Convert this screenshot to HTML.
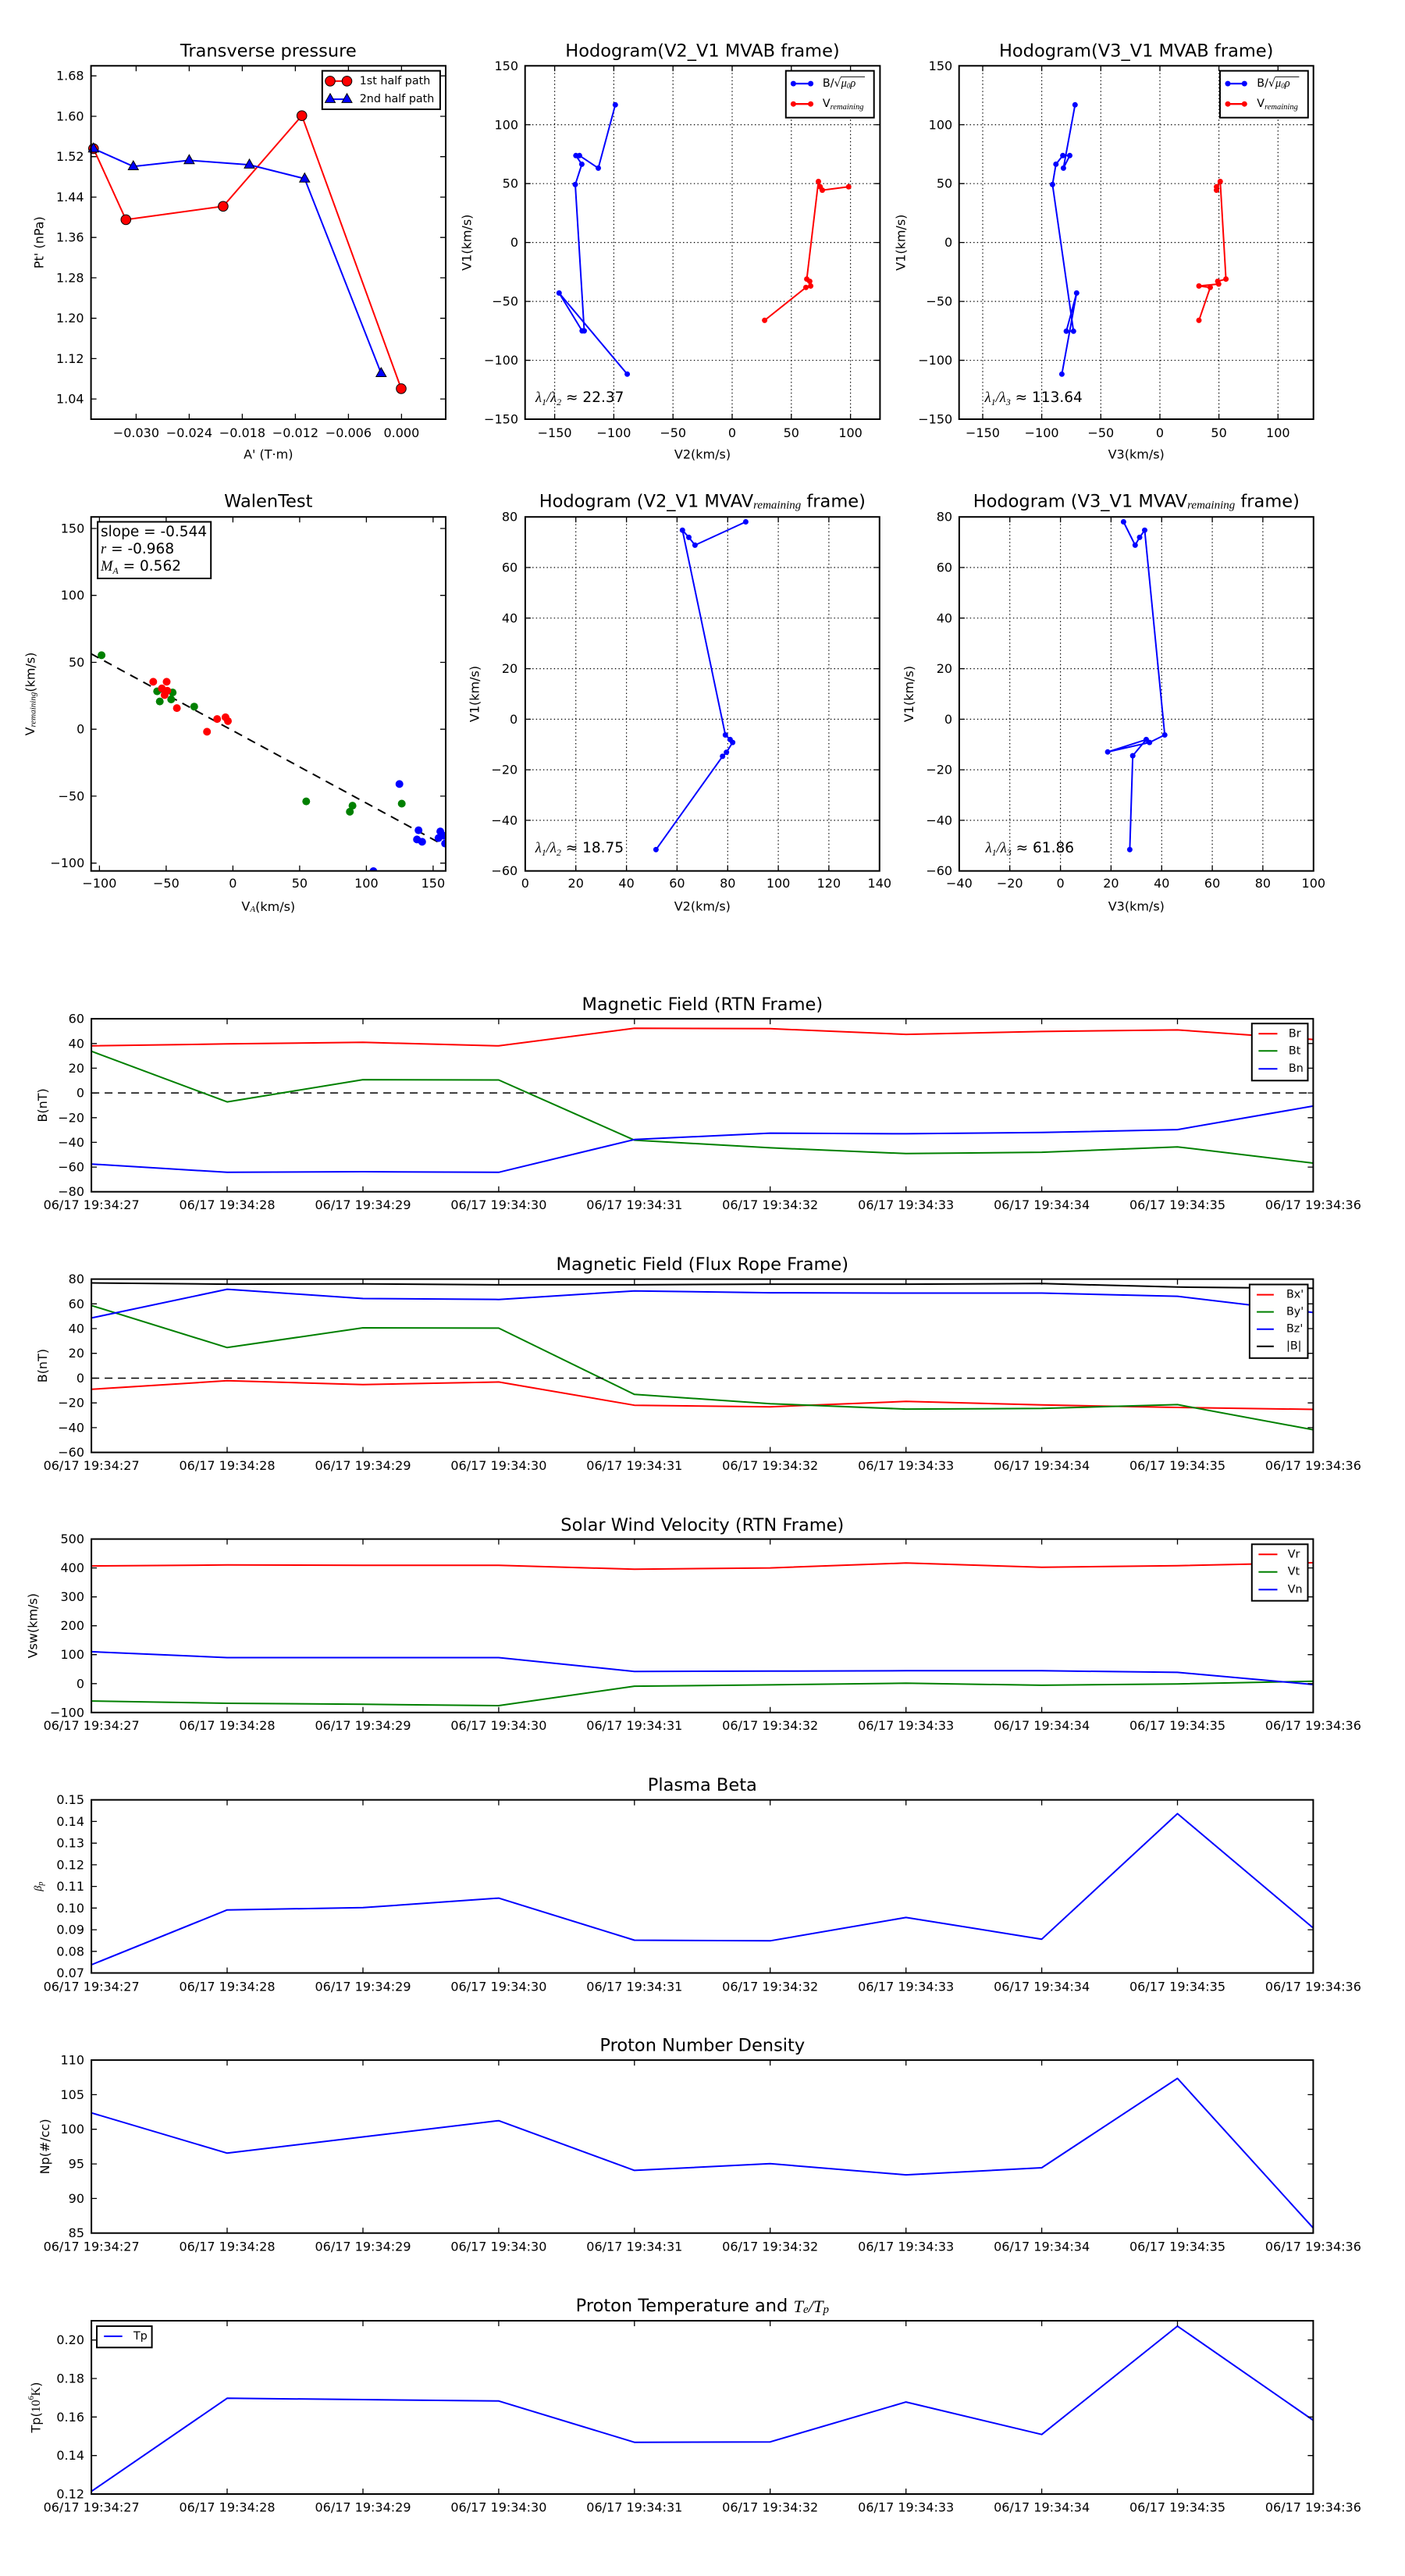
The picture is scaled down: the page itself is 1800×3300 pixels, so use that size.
<!DOCTYPE html>
<html><head><meta charset="utf-8"><title>Flux rope analysis</title><style>
html,body{margin:0;padding:0;background:#fff;}
svg{display:block;}
text{font-family:"DejaVu Sans","Liberation Sans",sans-serif;fill:#000;}
.t{font-size:16px;}
.ti{font-size:22.5px;}
.al{font-size:16px;}
.lg{font-size:14.3px;}
.tx{font-size:18.5px;}
.m{font-family:"Liberation Serif","DejaVu Serif",serif;font-style:italic;}
.fr{fill:none;stroke:#000;stroke-width:2;}
.tk{fill:none;stroke:#000;stroke-width:1.3;}
.gr{fill:none;stroke:#000;stroke-width:1.2;stroke-dasharray:1.4,3.2;}
.ln{fill:none;stroke-width:2;stroke-linejoin:round;}
</style></head><body>
<svg width="1800" height="3300" viewBox="0 0 1800 3300" xmlns="http://www.w3.org/2000/svg">
<rect width="1800" height="3300" fill="#fff"/>
<defs>
<clipPath id="cw"><rect x="116.7" y="662.2" width="454.3" height="453.5"/></clipPath>
</defs>

<!-- ============ PLOT 1: Transverse pressure ============ -->
<text class="ti" x="343.8" y="65.7" text-anchor="middle" dominant-baseline="central">Transverse pressure</text>
<path class="tk" d="M174.4,537v-7M242.4,537v-7M310.4,537v-7M378.4,537v-7M446.4,537v-7M514.4,537v-7M174.4,84.3v7M242.4,84.3v7M310.4,84.3v7M378.4,84.3v7M446.4,84.3v7M514.4,84.3v7M116.6,511.1h7M116.6,459.4h7M116.6,407.7h7M116.6,355.9h7M116.6,304.2h7M116.6,252.5h7M116.6,200.7h7M116.6,149h7M116.6,97.2h7M571,511.1h-7M571,459.4h-7M571,407.7h-7M571,355.9h-7M571,304.2h-7M571,252.5h-7M571,200.7h-7M571,149h-7M571,97.2h-7"/>
<g class="t" text-anchor="end" dominant-baseline="central">
<text x="107.6" y="511.1">1.04</text><text x="107.6" y="459.4">1.12</text><text x="107.6" y="407.7">1.20</text><text x="107.6" y="355.9">1.28</text><text x="107.6" y="304.2">1.36</text><text x="107.6" y="252.5">1.44</text><text x="107.6" y="200.7">1.52</text><text x="107.6" y="149">1.60</text><text x="107.6" y="97.2">1.68</text>
</g>
<g class="t" text-anchor="middle" dominant-baseline="central">
<text x="174.4" y="554.3">−0.030</text><text x="242.4" y="554.3">−0.024</text><text x="310.4" y="554.3">−0.018</text><text x="378.4" y="554.3">−0.012</text><text x="446.4" y="554.3">−0.006</text><text x="514.4" y="554.3">0.000</text>
</g>
<text class="al" transform="translate(50.2,310.7) rotate(-90)" text-anchor="middle" dominant-baseline="central">Pt' (nPa)</text>
<text class="al" x="343.8" y="582" text-anchor="middle" dominant-baseline="central">A' (T·m)</text>
<polyline class="ln" stroke="#f00" points="119.8,190.4 161.3,281.4 285.9,264.3 386.7,148.2 514,497.9"/>
<g fill="#f00" stroke="#000" stroke-width="1">
<circle cx="119.8" cy="190.4" r="6.3"/><circle cx="161.3" cy="281.4" r="6.3"/><circle cx="285.9" cy="264.3" r="6.3"/><circle cx="386.7" cy="148.2" r="6.3"/><circle cx="514" cy="497.9" r="6.3"/>
</g>
<polyline class="ln" stroke="#00f" points="119.8,190.4 170.8,213.2 242.4,205.4 319.5,211.1 390.3,228.9 488.3,478.2"/>
<g fill="#00f" stroke="#000" stroke-width="1">
<path d="M119.8,183.2l6.5,11.5h-13z"/><path d="M170.8,206l6.5,11.5h-13z"/><path d="M242.4,198.2l6.5,11.5h-13z"/><path d="M319.5,203.9l6.5,11.5h-13z"/><path d="M390.3,221.7l6.5,11.5h-13z"/><path d="M488.3,471l6.5,11.5h-13z"/>
</g>
<rect class="fr" x="116.6" y="84.3" width="454.4" height="452.7"/>
<rect x="412.8" y="90.7" width="151.1" height="49.3" fill="#fff" stroke="#000" stroke-width="2"/>
<line x1="423" y1="103.9" x2="444.5" y2="103.9" stroke="#f00" stroke-width="2"/>
<circle cx="423" cy="103.9" r="6.3" fill="#f00" stroke="#000"/><circle cx="444.5" cy="103.9" r="6.3" fill="#f00" stroke="#000"/>
<line x1="423" y1="127.1" x2="444.5" y2="127.1" stroke="#00f" stroke-width="2"/>
<path d="M423,119.9l6.5,11.5h-13z M444.5,119.9l6.5,11.5h-13z" fill="#00f" stroke="#000"/>
<text class="lg" x="460.7" y="103.9" dominant-baseline="central">1st half path</text>
<text class="lg" x="460.7" y="127.1" dominant-baseline="central">2nd half path</text>

<!-- ============ PLOT 2: Hodogram V2_V1 MVAB ============ -->
<text class="ti" x="900" y="65.7" text-anchor="middle" dominant-baseline="central">Hodogram(V2_V1 MVAB frame)</text>
<path class="gr" d="M710.6,84.3V537M786.4,84.3V537M862.2,84.3V537M938,84.3V537M1013.8,84.3V537M1089.6,84.3V537M672.7,159.75H1127.4M672.7,235.2H1127.4M672.7,310.65H1127.4M672.7,386.1H1127.4M672.7,461.55H1127.4"/>
<path class="tk" d="M710.6,537v-7M786.4,537v-7M862.2,537v-7M938,537v-7M1013.8,537v-7M1089.6,537v-7M710.6,84.3v7M786.4,84.3v7M862.2,84.3v7M938,84.3v7M1013.8,84.3v7M1089.6,84.3v7M672.7,159.75h7M672.7,235.2h7M672.7,310.65h7M672.7,386.1h7M672.7,461.55h7M1127.4,159.75h-7M1127.4,235.2h-7M1127.4,310.65h-7M1127.4,386.1h-7M1127.4,461.55h-7"/>
<g class="t" text-anchor="end" dominant-baseline="central">
<text x="664" y="84.3">150</text><text x="664" y="159.75">100</text><text x="664" y="235.2">50</text><text x="664" y="310.65">0</text><text x="664" y="386.1">−50</text><text x="664" y="461.55">−100</text><text x="664" y="537">−150</text>
</g>
<g class="t" text-anchor="middle" dominant-baseline="central">
<text x="710.6" y="554.3">−150</text><text x="786.4" y="554.3">−100</text><text x="862.2" y="554.3">−50</text><text x="938" y="554.3">0</text><text x="1013.8" y="554.3">50</text><text x="1089.6" y="554.3">100</text>
</g>
<text class="al" transform="translate(598,310.7) rotate(-90)" text-anchor="middle" dominant-baseline="central">V1(km/s)</text>
<text class="al" x="900" y="582" text-anchor="middle" dominant-baseline="central">V2(km/s)</text>
<polyline class="ln" stroke="#00f" stroke-width="2.3" points="788.3,134.3 766.5,215.4 742.4,199.3 737.8,199.3 745.4,210.4 737,236.4 748.5,423.9 745.8,423.9 716.3,375.4 803.6,479.3"/>
<g fill="#00f">
<circle cx="788.3" cy="134.3" r="3.5"/><circle cx="766.5" cy="215.4" r="3.5"/><circle cx="742.4" cy="199.3" r="3.5"/><circle cx="737.8" cy="199.3" r="3.5"/><circle cx="745.4" cy="210.4" r="3.5"/><circle cx="737" cy="236.4" r="3.5"/><circle cx="748.5" cy="423.9" r="3.5"/><circle cx="745.8" cy="423.9" r="3.5"/><circle cx="716.3" cy="375.4" r="3.5"/><circle cx="803.6" cy="479.3" r="3.5"/>
</g>
<polyline class="ln" stroke="#f00" stroke-width="2.3" points="1087.2,239.3 1053.5,243.6 1050.8,239.3 1048.5,232.5 1033.6,357.5 1037.4,360.4 1038.6,366.4 1032.5,368.2 979.6,410.4"/>
<g fill="#f00">
<circle cx="1087.2" cy="239.3" r="3.5"/><circle cx="1053.5" cy="243.6" r="3.5"/><circle cx="1050.8" cy="239.3" r="3.5"/><circle cx="1048.5" cy="232.5" r="3.5"/><circle cx="1033.6" cy="357.5" r="3.5"/><circle cx="1037.4" cy="360.4" r="3.5"/><circle cx="1038.6" cy="366.4" r="3.5"/><circle cx="1032.5" cy="368.2" r="3.5"/><circle cx="979.6" cy="410.4" r="3.5"/>
</g>
<rect class="fr" x="672.7" y="84.3" width="454.7" height="452.7"/>
<rect x="1006.8" y="90.7" width="112.9" height="60" fill="#fff" stroke="#000" stroke-width="2"/>
<line x1="1016.4" y1="107.1" x2="1038.6" y2="107.1" stroke="#00f" stroke-width="2.3"/><circle cx="1016.4" cy="107.1" r="3.5" fill="#00f"/><circle cx="1038.6" cy="107.1" r="3.5" fill="#00f"/>
<line x1="1016.4" y1="133.2" x2="1038.6" y2="133.2" stroke="#f00" stroke-width="2.3"/><circle cx="1016.4" cy="133.2" r="3.5" fill="#f00"/><circle cx="1038.6" cy="133.2" r="3.5" fill="#f00"/>
<text class="lg" x="1053.9" y="107.1" dominant-baseline="central">B/√<tspan class="m">μ</tspan><tspan class="m" font-size="9" dy="3">0</tspan><tspan class="m" dy="-3">ρ</tspan></text>
<line x1="1077" y1="98.6" x2="1108" y2="98.6" stroke="#000" stroke-width="0.9"/>
<text class="lg" x="1053.9" y="133.2" dominant-baseline="central">V<tspan class="m" font-size="10.5" dy="4">remaining</tspan></text>
<text class="tx" x="686" y="515"><tspan class="m">λ</tspan><tspan class="m" font-size="12" dy="4">1</tspan><tspan class="m" dy="-4">/</tspan><tspan class="m">λ</tspan><tspan class="m" font-size="12" dy="4">2</tspan><tspan dy="-4"> ≈ 22.37</tspan></text>

<!-- ============ PLOT 3: Hodogram V3_V1 MVAB ============ -->
<text class="ti" x="1455.7" y="65.7" text-anchor="middle" dominant-baseline="central">Hodogram(V3_V1 MVAB frame)</text>
<path class="gr" d="M1259,84.3V537M1334.6,84.3V537M1410.3,84.3V537M1486,84.3V537M1561.6,84.3V537M1637.3,84.3V537M1228.7,159.75H1682.7M1228.7,235.2H1682.7M1228.7,310.65H1682.7M1228.7,386.1H1682.7M1228.7,461.55H1682.7"/>
<path class="tk" d="M1259,537v-7M1334.6,537v-7M1410.3,537v-7M1486,537v-7M1561.6,537v-7M1637.3,537v-7M1259,84.3v7M1334.6,84.3v7M1410.3,84.3v7M1486,84.3v7M1561.6,84.3v7M1637.3,84.3v7M1228.7,159.75h7M1228.7,235.2h7M1228.7,310.65h7M1228.7,386.1h7M1228.7,461.55h7M1682.7,159.75h-7M1682.7,235.2h-7M1682.7,310.65h-7M1682.7,386.1h-7M1682.7,461.55h-7"/>
<g class="t" text-anchor="end" dominant-baseline="central">
<text x="1220.2" y="84.3">150</text><text x="1220.2" y="159.75">100</text><text x="1220.2" y="235.2">50</text><text x="1220.2" y="310.65">0</text><text x="1220.2" y="386.1">−50</text><text x="1220.2" y="461.55">−100</text><text x="1220.2" y="537">−150</text>
</g>
<g class="t" text-anchor="middle" dominant-baseline="central">
<text x="1259" y="554.3">−150</text><text x="1334.6" y="554.3">−100</text><text x="1410.3" y="554.3">−50</text><text x="1486" y="554.3">0</text><text x="1561.6" y="554.3">50</text><text x="1637.3" y="554.3">100</text>
</g>
<text class="al" transform="translate(1154,310.7) rotate(-90)" text-anchor="middle" dominant-baseline="central">V1(km/s)</text>
<text class="al" x="1455.7" y="582" text-anchor="middle" dominant-baseline="central">V3(km/s)</text>
<polyline class="ln" stroke="#00f" stroke-width="2.3" points="1377.3,134.3 1362.4,215.4 1370.5,199.3 1361.6,199.3 1352.8,210.4 1348.4,236.4 1375.3,424.3 1366.1,424.3 1379.3,375.4 1360.4,479.3"/>
<g fill="#00f">
<circle cx="1377.3" cy="134.3" r="3.5"/><circle cx="1362.4" cy="215.4" r="3.5"/><circle cx="1370.5" cy="199.3" r="3.5"/><circle cx="1361.6" cy="199.3" r="3.5"/><circle cx="1352.8" cy="210.4" r="3.5"/><circle cx="1348.4" cy="236.4" r="3.5"/><circle cx="1375.3" cy="424.3" r="3.5"/><circle cx="1366.1" cy="424.3" r="3.5"/><circle cx="1379.3" cy="375.4" r="3.5"/><circle cx="1360.4" cy="479.3" r="3.5"/>
</g>
<polyline class="ln" stroke="#f00" stroke-width="2.3" points="1558.5,239.3 1558.5,243.6 1558.5,239.3 1563.3,232.5 1570.6,357.5 1560.1,360.4 1561.3,363.9 1536,366.4 1550.5,368.2 1536,410.4"/>
<g fill="#f00">
<circle cx="1558.5" cy="239.3" r="3.5"/><circle cx="1558.5" cy="243.6" r="3.5"/><circle cx="1563.3" cy="232.5" r="3.5"/><circle cx="1570.6" cy="357.5" r="3.5"/><circle cx="1560.1" cy="360.4" r="3.5"/><circle cx="1561.3" cy="363.9" r="3.5"/><circle cx="1536" cy="366.4" r="3.5"/><circle cx="1550.5" cy="368.2" r="3.5"/><circle cx="1536" cy="410.4" r="3.5"/>
</g>
<rect class="fr" x="1228.7" y="84.3" width="454" height="452.7"/>
<rect x="1563" y="90.7" width="112.8" height="60" fill="#fff" stroke="#000" stroke-width="2"/>
<line x1="1573" y1="107.1" x2="1594.3" y2="107.1" stroke="#00f" stroke-width="2.3"/><circle cx="1573" cy="107.1" r="3.5" fill="#00f"/><circle cx="1594.3" cy="107.1" r="3.5" fill="#00f"/>
<line x1="1573" y1="133.2" x2="1594.3" y2="133.2" stroke="#f00" stroke-width="2.3"/><circle cx="1573" cy="133.2" r="3.5" fill="#f00"/><circle cx="1594.3" cy="133.2" r="3.5" fill="#f00"/>
<text class="lg" x="1610.3" y="107.1" dominant-baseline="central">B/√<tspan class="m">μ</tspan><tspan class="m" font-size="9" dy="3">0</tspan><tspan class="m" dy="-3">ρ</tspan></text>
<line x1="1633.4" y1="98.6" x2="1664.4" y2="98.6" stroke="#000" stroke-width="0.9"/>
<text class="lg" x="1610.3" y="133.2" dominant-baseline="central">V<tspan class="m" font-size="10.5" dy="4">remaining</tspan></text>
<text class="tx" x="1261.6" y="515"><tspan class="m">λ</tspan><tspan class="m" font-size="12" dy="4">1</tspan><tspan class="m" dy="-4">/</tspan><tspan class="m">λ</tspan><tspan class="m" font-size="12" dy="4">3</tspan><tspan dy="-4"> ≈ 113.64</tspan></text>

<!-- ============ PLOT 4: WalenTest ============ -->
<text class="ti" x="343.8" y="642.6" text-anchor="middle" dominant-baseline="central">WalenTest</text>
<path class="tk" d="M127.4,1115.7v-7M212.9,1115.7v-7M298.4,1115.7v-7M383.9,1115.7v-7M469.4,1115.7v-7M554.9,1115.7v-7M127.4,662.2v7M212.9,662.2v7M298.4,662.2v7M383.9,662.2v7M469.4,662.2v7M554.9,662.2v7M116.7,677h7M116.7,762.7h7M116.7,848.5h7M116.7,934.2h7M116.7,1019.9h7M116.7,1105.7h7M571,677h-7M571,762.7h-7M571,848.5h-7M571,934.2h-7M571,1019.9h-7M571,1105.7h-7"/>
<g class="t" text-anchor="end" dominant-baseline="central">
<text x="108.3" y="677">150</text><text x="108.3" y="762.7">100</text><text x="108.3" y="848.5">50</text><text x="108.3" y="934.2">0</text><text x="108.3" y="1019.9">−50</text><text x="108.3" y="1105.7">−100</text>
</g>
<g class="t" text-anchor="middle" dominant-baseline="central">
<text x="127.4" y="1131.6">−100</text><text x="212.9" y="1131.6">−50</text><text x="298.4" y="1131.6">0</text><text x="383.9" y="1131.6">50</text><text x="469.4" y="1131.6">100</text><text x="554.9" y="1131.6">150</text>
</g>
<text class="al" transform="translate(38.3,889) rotate(-90)" text-anchor="middle" dominant-baseline="central">V<tspan class="m" font-size="11" dy="4">remaining</tspan><tspan dy="-4">(km/s)</tspan></text>
<text class="al" x="343.8" y="1161.2" text-anchor="middle" dominant-baseline="central">V<tspan class="m" font-size="11" dy="4">A</tspan><tspan dy="-4">(km/s)</tspan></text>
<g clip-path="url(#cw)">
<line x1="116.7" y1="837.5" x2="571" y2="1084" stroke="#000" stroke-width="2" stroke-dasharray="11,8"/>
<g fill="#008000">
<circle cx="130.1" cy="839.4" r="5"/><circle cx="201.3" cy="885.6" r="5"/><circle cx="204.7" cy="898.6" r="5"/><circle cx="221.2" cy="887.1" r="5"/><circle cx="219.3" cy="896" r="5"/><circle cx="248.8" cy="905.2" r="5"/><circle cx="392.3" cy="1026.6" r="5"/><circle cx="451.6" cy="1032.1" r="5"/><circle cx="448.2" cy="1039.9" r="5"/><circle cx="514.7" cy="1029.5" r="5"/>
</g>
<g fill="#f00">
<circle cx="196.3" cy="873.4" r="5"/><circle cx="213.5" cy="873.4" r="5"/><circle cx="207.4" cy="881.9" r="5"/><circle cx="214.3" cy="884.9" r="5"/><circle cx="210.9" cy="890.4" r="5"/><circle cx="226.6" cy="907.1" r="5"/><circle cx="265.2" cy="937.4" r="5"/><circle cx="278.2" cy="921.1" r="5"/><circle cx="288.9" cy="918.9" r="5"/><circle cx="292" cy="923.7" r="5"/>
</g>
<g fill="#00f">
<circle cx="511.7" cy="1004.4" r="5"/><circle cx="536.2" cy="1063.6" r="5"/><circle cx="534.2" cy="1075.4" r="5"/><circle cx="540.8" cy="1078.4" r="5"/><circle cx="564.1" cy="1065.1" r="5"/><circle cx="561.8" cy="1073.6" r="5"/><circle cx="568.3" cy="1070.6" r="5"/><circle cx="570.2" cy="1080.6" r="5"/><circle cx="478.4" cy="1116" r="5"/>
</g>
</g>
<rect class="fr" x="116.7" y="662.2" width="454.3" height="453.5"/>
<rect x="125.1" y="668.5" width="145.1" height="72.5" fill="#fff" stroke="#000" stroke-width="2"/>
<text class="tx" x="129" y="686.8">slope = -0.544</text>
<text class="tx" x="129" y="709"><tspan class="m">r</tspan> = -0.968</text>
<text class="tx" x="129" y="731.2"><tspan class="m">M</tspan><tspan class="m" font-size="12" dy="4">A</tspan><tspan dy="-4"> = 0.562</tspan></text>

<!-- ============ PLOT 5: Hodogram V2_V1 MVAV ============ -->
<text class="ti" x="899.8" y="642.6" text-anchor="middle" dominant-baseline="central">Hodogram (V2_V1 MVAV<tspan class="m" font-size="15" dy="5">remaining</tspan><tspan dy="-5"> frame)</tspan></text>
<path class="gr" d="M737.7,662.2V1115.7M802.6,662.2V1115.7M867.4,662.2V1115.7M932.3,662.2V1115.7M997.1,662.2V1115.7M1061.9,662.2V1115.7M672.9,727H1126.8M672.9,791.8H1126.8M672.9,856.6H1126.8M672.9,921.4H1126.8M672.9,986.1H1126.8M672.9,1050.9H1126.8"/>
<path class="tk" d="M737.7,1115.7v-7M802.6,1115.7v-7M867.4,1115.7v-7M932.3,1115.7v-7M997.1,1115.7v-7M1061.9,1115.7v-7M737.7,662.2v7M802.6,662.2v7M867.4,662.2v7M932.3,662.2v7M997.1,662.2v7M1061.9,662.2v7M672.9,727h7M672.9,791.8h7M672.9,856.6h7M672.9,921.4h7M672.9,986.1h7M672.9,1050.9h7M1126.8,727h-7M1126.8,791.8h-7M1126.8,856.6h-7M1126.8,921.4h-7M1126.8,986.1h-7M1126.8,1050.9h-7"/>
<g class="t" text-anchor="end" dominant-baseline="central">
<text x="663.2" y="662.2">80</text><text x="663.2" y="727">60</text><text x="663.2" y="791.8">40</text><text x="663.2" y="856.6">20</text><text x="663.2" y="921.4">0</text><text x="663.2" y="986.1">−20</text><text x="663.2" y="1050.9">−40</text><text x="663.2" y="1115.7">−60</text>
</g>
<g class="t" text-anchor="middle" dominant-baseline="central">
<text x="672.9" y="1131.6">0</text><text x="737.7" y="1131.6">20</text><text x="802.6" y="1131.6">40</text><text x="867.4" y="1131.6">60</text><text x="932.3" y="1131.6">80</text><text x="997.1" y="1131.6">100</text><text x="1061.9" y="1131.6">120</text><text x="1126.8" y="1131.6">140</text>
</g>
<text class="al" transform="translate(607.9,889) rotate(-90)" text-anchor="middle" dominant-baseline="central">V1(km/s)</text>
<text class="al" x="899.8" y="1161.2" text-anchor="middle" dominant-baseline="central">V2(km/s)</text>
<polyline class="ln" stroke="#00f" stroke-width="2.3" points="955.4,668.5 890.4,698.4 882.5,688.4 874.3,679.2 929.3,941.5 935.4,947.4 938.6,951.1 930.7,963.7 925.7,968.9 840.4,1088.4"/>
<g fill="#00f">
<circle cx="955.4" cy="668.5" r="3.5"/><circle cx="890.4" cy="698.4" r="3.5"/><circle cx="882.5" cy="688.4" r="3.5"/><circle cx="874.3" cy="679.2" r="3.5"/><circle cx="929.3" cy="941.5" r="3.5"/><circle cx="935.4" cy="947.4" r="3.5"/><circle cx="938.6" cy="951.1" r="3.5"/><circle cx="930.7" cy="963.7" r="3.5"/><circle cx="925.7" cy="968.9" r="3.5"/><circle cx="840.4" cy="1088.4" r="3.5"/>
</g>
<rect class="fr" x="672.9" y="662.2" width="453.9" height="453.5"/>
<text class="tx" x="685.7" y="1092"><tspan class="m">λ</tspan><tspan class="m" font-size="12" dy="4">1</tspan><tspan class="m" dy="-4">/</tspan><tspan class="m">λ</tspan><tspan class="m" font-size="12" dy="4">2</tspan><tspan dy="-4"> ≈ 18.75</tspan></text>

<!-- ============ PLOT 6: Hodogram V3_V1 MVAV ============ -->
<text class="ti" x="1455.8" y="642.6" text-anchor="middle" dominant-baseline="central">Hodogram (V3_V1 MVAV<tspan class="m" font-size="15" dy="5">remaining</tspan><tspan dy="-5"> frame)</tspan></text>
<path class="gr" d="M1293.7,662.2V1115.7M1358.6,662.2V1115.7M1423.4,662.2V1115.7M1488.3,662.2V1115.7M1553.1,662.2V1115.7M1617.9,662.2V1115.7M1228.9,727H1682.8M1228.9,791.8H1682.8M1228.9,856.6H1682.8M1228.9,921.4H1682.8M1228.9,986.1H1682.8M1228.9,1050.9H1682.8"/>
<path class="tk" d="M1293.7,1115.7v-7M1358.6,1115.7v-7M1423.4,1115.7v-7M1488.3,1115.7v-7M1553.1,1115.7v-7M1617.9,1115.7v-7M1293.7,662.2v7M1358.6,662.2v7M1423.4,662.2v7M1488.3,662.2v7M1553.1,662.2v7M1617.9,662.2v7M1228.9,727h7M1228.9,791.8h7M1228.9,856.6h7M1228.9,921.4h7M1228.9,986.1h7M1228.9,1050.9h7M1682.8,727h-7M1682.8,791.8h-7M1682.8,856.6h-7M1682.8,921.4h-7M1682.8,986.1h-7M1682.8,1050.9h-7"/>
<g class="t" text-anchor="end" dominant-baseline="central">
<text x="1220.1" y="662.2">80</text><text x="1220.1" y="727">60</text><text x="1220.1" y="791.8">40</text><text x="1220.1" y="856.6">20</text><text x="1220.1" y="921.4">0</text><text x="1220.1" y="986.1">−20</text><text x="1220.1" y="1050.9">−40</text><text x="1220.1" y="1115.7">−60</text>
</g>
<g class="t" text-anchor="middle" dominant-baseline="central">
<text x="1228.9" y="1131.6">−40</text><text x="1293.7" y="1131.6">−20</text><text x="1358.6" y="1131.6">0</text><text x="1423.4" y="1131.6">20</text><text x="1488.3" y="1131.6">40</text><text x="1553.1" y="1131.6">60</text><text x="1617.9" y="1131.6">80</text><text x="1682.8" y="1131.6">100</text>
</g>
<text class="al" transform="translate(1164.6,889) rotate(-90)" text-anchor="middle" dominant-baseline="central">V1(km/s)</text>
<text class="al" x="1455.8" y="1161.2" text-anchor="middle" dominant-baseline="central">V3(km/s)</text>
<polyline class="ln" stroke="#00f" stroke-width="2.3" points="1439.4,668.5 1454.3,698.4 1460,688.4 1466.5,679.2 1492.2,941.5 1472.7,951.1 1419.1,963.3 1468.5,947.4 1451.2,968.1 1447.4,1088.4"/>
<g fill="#00f">
<circle cx="1439.4" cy="668.5" r="3.5"/><circle cx="1454.3" cy="698.4" r="3.5"/><circle cx="1460" cy="688.4" r="3.5"/><circle cx="1466.5" cy="679.2" r="3.5"/><circle cx="1492.2" cy="941.5" r="3.5"/><circle cx="1472.7" cy="951.1" r="3.5"/><circle cx="1419.1" cy="963.3" r="3.5"/><circle cx="1468.5" cy="947.4" r="3.5"/><circle cx="1451.2" cy="968.1" r="3.5"/><circle cx="1447.4" cy="1088.4" r="3.5"/>
</g>
<rect class="fr" x="1228.9" y="662.2" width="453.9" height="453.5"/>
<text class="tx" x="1262.6" y="1092"><tspan class="m">λ</tspan><tspan class="m" font-size="12" dy="4">1</tspan><tspan class="m" dy="-4">/</tspan><tspan class="m">λ</tspan><tspan class="m" font-size="12" dy="4">3</tspan><tspan dy="-4"> ≈ 61.86</tspan></text>

<!-- ============ TS1: Magnetic Field RTN ============ -->
<text class="ti" x="899.8" y="1287.1" text-anchor="middle" dominant-baseline="central">Magnetic Field (RTN Frame)</text>
<line x1="117.1" y1="1400.1" x2="1682.4" y2="1400.1" stroke="#000" stroke-width="1.5" stroke-dasharray="10,7"/>
<polyline class="ln" stroke="#f00" points="117.1,1339.8 291,1337.3 465,1335.3 638.9,1339.8 812.8,1317.3 986.7,1317.8 1160.7,1325.1 1334.6,1321.4 1508.5,1319.4 1682.4,1331.6"/>
<polyline class="ln" stroke="#008000" points="117.1,1346.7 291,1411.6 465,1383.1 638.9,1383.5 812.8,1460.6 986.7,1470.4 1160.7,1477.8 1334.6,1476.1 1508.5,1469.2 1682.4,1490"/>
<polyline class="ln" stroke="#00f" points="117.1,1491.2 291,1501.8 465,1501 638.9,1501.8 812.8,1459.8 986.7,1451.6 1160.7,1452.4 1334.6,1450.8 1508.5,1447.1 1682.4,1416.9"/>
<path class="tk" d="M291,1526.7v-7M465,1526.7v-7M638.9,1526.7v-7M812.8,1526.7v-7M986.7,1526.7v-7M1160.7,1526.7v-7M1334.6,1526.7v-7M1508.5,1526.7v-7M291,1305.1v7M465,1305.1v7M638.9,1305.1v7M812.8,1305.1v7M986.7,1305.1v7M1160.7,1305.1v7M1334.6,1305.1v7M1508.5,1305.1v7M117.1,1336.8h7M117.1,1368.4h7M117.1,1400.1h7M117.1,1431.8h7M117.1,1463.4h7M117.1,1495.1h7M1682.4,1336.8h-7M1682.4,1368.4h-7M1682.4,1400.1h-7M1682.4,1431.8h-7M1682.4,1463.4h-7M1682.4,1495.1h-7"/>
<rect class="fr" x="117.1" y="1305.1" width="1565.3" height="221.6"/>
<g class="t" text-anchor="end" dominant-baseline="central">
<text x="108" y="1305.1">60</text><text x="108" y="1336.8">40</text><text x="108" y="1368.4">20</text><text x="108" y="1400.1">0</text><text x="108" y="1431.8">−20</text><text x="108" y="1463.4">−40</text><text x="108" y="1495.1">−60</text><text x="108" y="1526.7">−80</text>
</g>
<g class="t" text-anchor="middle" dominant-baseline="central">
<text x="117.1" y="1543.5">06/17 19:34:27</text><text x="291" y="1543.5">06/17 19:34:28</text><text x="465" y="1543.5">06/17 19:34:29</text><text x="638.9" y="1543.5">06/17 19:34:30</text><text x="812.8" y="1543.5">06/17 19:34:31</text><text x="986.7" y="1543.5">06/17 19:34:32</text><text x="1160.7" y="1543.5">06/17 19:34:33</text><text x="1334.6" y="1543.5">06/17 19:34:34</text><text x="1508.5" y="1543.5">06/17 19:34:35</text><text x="1682.4" y="1543.5">06/17 19:34:36</text>
</g>
<text class="al" transform="translate(54.5,1415.9) rotate(-90)" text-anchor="middle" dominant-baseline="central">B(nT)</text>
<rect x="1603.8" y="1311.2" width="71.7" height="73.1" fill="#fff" stroke="#000" stroke-width="2"/>
<line x1="1612.4" y1="1324.3" x2="1636.5" y2="1324.3" stroke="#f00" stroke-width="2"/>
<line x1="1612.4" y1="1346.3" x2="1636.5" y2="1346.3" stroke="#008000" stroke-width="2"/>
<line x1="1612.4" y1="1369.2" x2="1636.5" y2="1369.2" stroke="#00f" stroke-width="2"/>
<g class="lg" dominant-baseline="central"><text x="1650.9" y="1324.3">Br</text><text x="1650.9" y="1346.3">Bt</text><text x="1650.9" y="1369.2">Bn</text></g>

<!-- ============ TS2: Magnetic Field Flux Rope ============ -->
<text class="ti" x="899.8" y="1620.2" text-anchor="middle" dominant-baseline="central">Magnetic Field (Flux Rope Frame)</text>
<polyline class="ln" stroke="#f00" points="117.1,1779.8 291,1768.8 465,1773.7 638.9,1770.4 812.8,1800.2 986.7,1802.2 1160.7,1795.3 1334.6,1799.8 1508.5,1803 1682.4,1805.5"/>
<polyline class="ln" stroke="#008000" points="117.1,1672.4 291,1726.3 465,1701 638.9,1701.4 812.8,1786.3 986.7,1798.2 1160.7,1805.1 1334.6,1804.3 1508.5,1799.4 1682.4,1831.6"/>
<polyline class="ln" stroke="#00f" points="117.1,1688.4 291,1651.6 465,1663.5 638.9,1664.7 812.8,1653.7 986.7,1656.1 1160.7,1656.5 1334.6,1656.5 1508.5,1660.6 1682.4,1681.4"/>
<polyline class="ln" stroke="#000" points="117.1,1643.5 291,1645.1 465,1644.7 638.9,1645.9 812.8,1645.9 986.7,1645.1 1160.7,1645.1 1334.6,1644.3 1508.5,1648.8 1682.4,1650.4"/>
<line x1="117.1" y1="1765.5" x2="1682.4" y2="1765.5" stroke="#000" stroke-width="1.5" stroke-dasharray="10,7"/>
<path class="tk" d="M291,1860.6v-7M465,1860.6v-7M638.9,1860.6v-7M812.8,1860.6v-7M986.7,1860.6v-7M1160.7,1860.6v-7M1334.6,1860.6v-7M1508.5,1860.6v-7M291,1638.6v7M465,1638.6v7M638.9,1638.6v7M812.8,1638.6v7M986.7,1638.6v7M1160.7,1638.6v7M1334.6,1638.6v7M1508.5,1638.6v7M117.1,1670.3h7M117.1,1702h7M117.1,1733.7h7M117.1,1765.5h7M117.1,1797.2h7M117.1,1828.9h7M1682.4,1670.3h-7M1682.4,1702h-7M1682.4,1733.7h-7M1682.4,1765.5h-7M1682.4,1797.2h-7M1682.4,1828.9h-7"/>
<rect class="fr" x="117.1" y="1638.6" width="1565.3" height="222"/>
<g class="t" text-anchor="end" dominant-baseline="central">
<text x="108" y="1638.6">80</text><text x="108" y="1670.3">60</text><text x="108" y="1702">40</text><text x="108" y="1733.7">20</text><text x="108" y="1765.5">0</text><text x="108" y="1797.2">−20</text><text x="108" y="1828.9">−40</text><text x="108" y="1860.6">−60</text>
</g>
<g class="t" text-anchor="middle" dominant-baseline="central">
<text x="117.1" y="1877.3">06/17 19:34:27</text><text x="291" y="1877.3">06/17 19:34:28</text><text x="465" y="1877.3">06/17 19:34:29</text><text x="638.9" y="1877.3">06/17 19:34:30</text><text x="812.8" y="1877.3">06/17 19:34:31</text><text x="986.7" y="1877.3">06/17 19:34:32</text><text x="1160.7" y="1877.3">06/17 19:34:33</text><text x="1334.6" y="1877.3">06/17 19:34:34</text><text x="1508.5" y="1877.3">06/17 19:34:35</text><text x="1682.4" y="1877.3">06/17 19:34:36</text>
</g>
<text class="al" transform="translate(54.5,1749.6) rotate(-90)" text-anchor="middle" dominant-baseline="central">B(nT)</text>
<rect x="1600.9" y="1645.5" width="74.6" height="94.3" fill="#fff" stroke="#000" stroke-width="2"/>
<line x1="1610.1" y1="1658.6" x2="1631.9" y2="1658.6" stroke="#f00" stroke-width="2"/>
<line x1="1610.1" y1="1680.6" x2="1631.9" y2="1680.6" stroke="#008000" stroke-width="2"/>
<line x1="1610.1" y1="1702.7" x2="1631.9" y2="1702.7" stroke="#00f" stroke-width="2"/>
<line x1="1610.1" y1="1724.7" x2="1631.9" y2="1724.7" stroke="#000" stroke-width="2"/>
<g class="lg" dominant-baseline="central"><text x="1648" y="1658.6">Bx'</text><text x="1648" y="1680.6">By'</text><text x="1648" y="1702.7">Bz'</text><text x="1648" y="1724.7">|B|</text></g>

<!-- ============ TS3: Solar Wind Velocity ============ -->
<text class="ti" x="899.8" y="1953.9" text-anchor="middle" dominant-baseline="central">Solar Wind Velocity (RTN Frame)</text>
<polyline class="ln" stroke="#f00" points="117.1,2006.1 291,2004.8 465,2005.2 638.9,2005.2 812.8,2010.3 986.7,2008.6 1160.7,2002.3 1334.6,2007.8 1508.5,2005.7 1682.4,2001.9"/>
<polyline class="ln" stroke="#008000" points="117.1,2179.1 291,2182 465,2183.3 638.9,2185 812.8,2160.1 986.7,2158.4 1160.7,2156.3 1334.6,2158.9 1508.5,2157.2 1682.4,2153.8"/>
<polyline class="ln" stroke="#00f" points="117.1,2115.9 291,2123.5 465,2123.5 638.9,2123.5 812.8,2141.2 986.7,2140.8 1160.7,2140.3 1334.6,2140.3 1508.5,2142.4 1682.4,2158"/>
<path class="tk" d="M291,2193.8v-7M465,2193.8v-7M638.9,2193.8v-7M812.8,2193.8v-7M986.7,2193.8v-7M1160.7,2193.8v-7M1334.6,2193.8v-7M1508.5,2193.8v-7M291,1971.6v7M465,1971.6v7M638.9,1971.6v7M812.8,1971.6v7M986.7,1971.6v7M1160.7,1971.6v7M1334.6,1971.6v7M1508.5,1971.6v7M117.1,2008.6h7M117.1,2045.7h7M117.1,2082.7h7M117.1,2119.7h7M117.1,2156.8h7M1682.4,2008.6h-7M1682.4,2045.7h-7M1682.4,2082.7h-7M1682.4,2119.7h-7M1682.4,2156.8h-7"/>
<rect class="fr" x="117.1" y="1971.6" width="1565.3" height="222.2"/>
<g class="t" text-anchor="end" dominant-baseline="central">
<text x="108" y="1971.6">500</text><text x="108" y="2008.6">400</text><text x="108" y="2045.7">300</text><text x="108" y="2082.7">200</text><text x="108" y="2119.7">100</text><text x="108" y="2156.8">0</text><text x="108" y="2193.8">−100</text>
</g>
<g class="t" text-anchor="middle" dominant-baseline="central">
<text x="117.1" y="2210.6">06/17 19:34:27</text><text x="291" y="2210.6">06/17 19:34:28</text><text x="465" y="2210.6">06/17 19:34:29</text><text x="638.9" y="2210.6">06/17 19:34:30</text><text x="812.8" y="2210.6">06/17 19:34:31</text><text x="986.7" y="2210.6">06/17 19:34:32</text><text x="1160.7" y="2210.6">06/17 19:34:33</text><text x="1334.6" y="2210.6">06/17 19:34:34</text><text x="1508.5" y="2210.6">06/17 19:34:35</text><text x="1682.4" y="2210.6">06/17 19:34:36</text>
</g>
<text class="al" transform="translate(41.9,2082.7) rotate(-90)" text-anchor="middle" dominant-baseline="central">Vsw(km/s)</text>
<rect x="1603.8" y="1978.3" width="71.7" height="72.4" fill="#fff" stroke="#000" stroke-width="2"/>
<line x1="1612.4" y1="1991.3" x2="1636.5" y2="1991.3" stroke="#f00" stroke-width="2"/>
<line x1="1612.4" y1="2013.7" x2="1636.5" y2="2013.7" stroke="#008000" stroke-width="2"/>
<line x1="1612.4" y1="2036.4" x2="1636.5" y2="2036.4" stroke="#00f" stroke-width="2"/>
<g class="lg" dominant-baseline="central"><text x="1649.7" y="1991.3">Vr</text><text x="1649.7" y="2013.7">Vt</text><text x="1649.7" y="2036.4">Vn</text></g>

<!-- ============ TS4: Plasma Beta ============ -->
<text class="ti" x="899.8" y="2286.8" text-anchor="middle" dominant-baseline="central">Plasma Beta</text>
<polyline class="ln" stroke="#00f" points="117.1,2517 291,2446.7 465,2443.8 638.9,2431.6 812.8,2485.5 986.7,2486.3 1160.7,2456.4 1334.6,2484.2 1508.5,2323.4 1682.4,2469.9"/>
<path class="tk" d="M291,2527.5v-7M465,2527.5v-7M638.9,2527.5v-7M812.8,2527.5v-7M986.7,2527.5v-7M1160.7,2527.5v-7M1334.6,2527.5v-7M1508.5,2527.5v-7M291,2305.7v7M465,2305.7v7M638.9,2305.7v7M812.8,2305.7v7M986.7,2305.7v7M1160.7,2305.7v7M1334.6,2305.7v7M1508.5,2305.7v7M117.1,2333.4h7M117.1,2361.2h7M117.1,2388.9h7M117.1,2416.6h7M117.1,2444.3h7M117.1,2472.1h7M117.1,2499.8h7M1682.4,2333.4h-7M1682.4,2361.2h-7M1682.4,2388.9h-7M1682.4,2416.6h-7M1682.4,2444.3h-7M1682.4,2472.1h-7M1682.4,2499.8h-7"/>
<rect class="fr" x="117.1" y="2305.7" width="1565.3" height="221.8"/>
<g class="t" text-anchor="end" dominant-baseline="central">
<text x="108" y="2305.7">0.15</text><text x="108" y="2333.4">0.14</text><text x="108" y="2361.2">0.13</text><text x="108" y="2388.9">0.12</text><text x="108" y="2416.6">0.11</text><text x="108" y="2444.3">0.10</text><text x="108" y="2472.1">0.09</text><text x="108" y="2499.8">0.08</text><text x="108" y="2527.5">0.07</text>
</g>
<g class="t" text-anchor="middle" dominant-baseline="central">
<text x="117.1" y="2544.8">06/17 19:34:27</text><text x="291" y="2544.8">06/17 19:34:28</text><text x="465" y="2544.8">06/17 19:34:29</text><text x="638.9" y="2544.8">06/17 19:34:30</text><text x="812.8" y="2544.8">06/17 19:34:31</text><text x="986.7" y="2544.8">06/17 19:34:32</text><text x="1160.7" y="2544.8">06/17 19:34:33</text><text x="1334.6" y="2544.8">06/17 19:34:34</text><text x="1508.5" y="2544.8">06/17 19:34:35</text><text x="1682.4" y="2544.8">06/17 19:34:36</text>
</g>
<text transform="translate(48.8,2416.6) rotate(-90)" text-anchor="middle" dominant-baseline="central" font-size="14"><tspan class="m">β</tspan><tspan class="m" font-size="10" dy="3">p</tspan></text>

<!-- ============ TS5: Proton Number Density ============ -->
<text class="ti" x="899.8" y="2620.5" text-anchor="middle" dominant-baseline="central">Proton Number Density</text>
<polyline class="ln" stroke="#00f" points="117.1,2706.7 291,2758.3 465,2737.5 638.9,2716.7 812.8,2780.4 986.7,2771.8 1160.7,2786.1 1334.6,2777 1508.5,2662.5 1682.4,2854.2"/>
<path class="tk" d="M291,2860.7v-7M465,2860.7v-7M638.9,2860.7v-7M812.8,2860.7v-7M986.7,2860.7v-7M1160.7,2860.7v-7M1334.6,2860.7v-7M1508.5,2860.7v-7M291,2639.1v7M465,2639.1v7M638.9,2639.1v7M812.8,2639.1v7M986.7,2639.1v7M1160.7,2639.1v7M1334.6,2639.1v7M1508.5,2639.1v7M117.1,2683.4h7M117.1,2727.7h7M117.1,2772.1h7M117.1,2816.4h7M1682.4,2683.4h-7M1682.4,2727.7h-7M1682.4,2772.1h-7M1682.4,2816.4h-7"/>
<rect class="fr" x="117.1" y="2639.1" width="1565.3" height="221.6"/>
<g class="t" text-anchor="end" dominant-baseline="central">
<text x="108" y="2639.1">110</text><text x="108" y="2683.4">105</text><text x="108" y="2727.7">100</text><text x="108" y="2772.1">95</text><text x="108" y="2816.4">90</text><text x="108" y="2860.7">85</text>
</g>
<g class="t" text-anchor="middle" dominant-baseline="central">
<text x="117.1" y="2878">06/17 19:34:27</text><text x="291" y="2878">06/17 19:34:28</text><text x="465" y="2878">06/17 19:34:29</text><text x="638.9" y="2878">06/17 19:34:30</text><text x="812.8" y="2878">06/17 19:34:31</text><text x="986.7" y="2878">06/17 19:34:32</text><text x="1160.7" y="2878">06/17 19:34:33</text><text x="1334.6" y="2878">06/17 19:34:34</text><text x="1508.5" y="2878">06/17 19:34:35</text><text x="1682.4" y="2878">06/17 19:34:36</text>
</g>
<text class="al" transform="translate(57.4,2749.9) rotate(-90)" text-anchor="middle" dominant-baseline="central">Np(#/cc)</text>

<!-- ============ TS6: Proton Temperature ============ -->
<text class="ti" x="899.8" y="2953.9" text-anchor="middle" dominant-baseline="central">Proton Temperature and <tspan class="m">T</tspan><tspan class="m" font-size="15" dy="5">e</tspan><tspan class="m" dy="-5">/T</tspan><tspan class="m" font-size="15" dy="5">p</tspan></text>
<polyline class="ln" stroke="#00f" points="117.1,3191.6 291,3072.3 465,3074 638.9,3075.8 812.8,3128.7 986.7,3128.2 1160.7,3077.1 1334.6,3118.7 1508.5,2979.9 1682.4,3100.5"/>
<path class="tk" d="M291,3195v-7M465,3195v-7M638.9,3195v-7M812.8,3195v-7M986.7,3195v-7M1160.7,3195v-7M1334.6,3195v-7M1508.5,3195v-7M291,2973v7M465,2973v7M638.9,2973v7M812.8,2973v7M986.7,2973v7M1160.7,2973v7M1334.6,2973v7M1508.5,2973v7M117.1,3145.7h7M117.1,3096.3h7M117.1,3047h7M117.1,2997.7h7M1682.4,3145.7h-7M1682.4,3096.3h-7M1682.4,3047h-7M1682.4,2997.7h-7"/>
<rect class="fr" x="117.1" y="2973" width="1565.3" height="222"/>
<g class="t" text-anchor="end" dominant-baseline="central">
<text x="108" y="3195">0.12</text><text x="108" y="3145.7">0.14</text><text x="108" y="3096.3">0.16</text><text x="108" y="3047">0.18</text><text x="108" y="2997.7">0.20</text>
</g>
<g class="t" text-anchor="middle" dominant-baseline="central">
<text x="117.1" y="3211.9">06/17 19:34:27</text><text x="291" y="3211.9">06/17 19:34:28</text><text x="465" y="3211.9">06/17 19:34:29</text><text x="638.9" y="3211.9">06/17 19:34:30</text><text x="812.8" y="3211.9">06/17 19:34:31</text><text x="986.7" y="3211.9">06/17 19:34:32</text><text x="1160.7" y="3211.9">06/17 19:34:33</text><text x="1334.6" y="3211.9">06/17 19:34:34</text><text x="1508.5" y="3211.9">06/17 19:34:35</text><text x="1682.4" y="3211.9">06/17 19:34:36</text>
</g>
<text class="al" transform="translate(45.9,3084) rotate(-90)" text-anchor="middle" dominant-baseline="central">Tp(<tspan font-family="Liberation Serif, serif">10</tspan><tspan font-family="Liberation Serif, serif" font-size="10" dy="-6">6</tspan><tspan font-family="Liberation Serif, serif" dy="6">K</tspan>)</text>
<rect x="124" y="2979.9" width="70.6" height="27.4" fill="#fff" stroke="#000" stroke-width="2"/>
<line x1="133.2" y1="2992.9" x2="156.7" y2="2992.9" stroke="#00f" stroke-width="2"/>
<text class="lg" x="171" y="2992.9" dominant-baseline="central">Tp</text>
</svg>
</body></html>
